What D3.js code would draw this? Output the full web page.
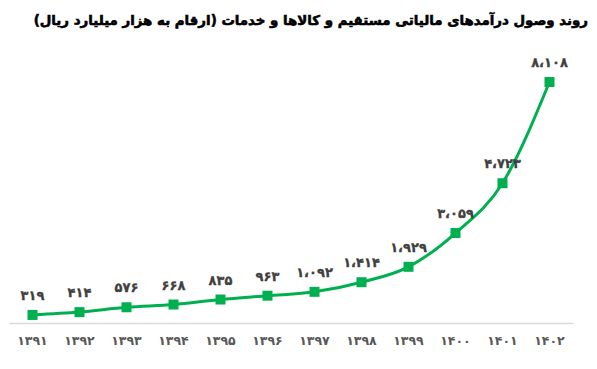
<!DOCTYPE html>
<html><head><meta charset="utf-8">
<script src="https://cdn.jsdelivr.net/npm/d3@7"></script>
<style>body{margin:0;background:#fff;}svg{display:block;}</style>
</head><body>
<svg id="c" width="597" height="369"></svg>
<script>
const title = "روند وصول درآمدهای مالیاتی مستقیم و کالاها و خدمات (ارقام به هزار میلیارد ریال)";
const years = ["۱۳۹۱","۱۳۹۲","۱۳۹۳","۱۳۹۴","۱۳۹۵","۱۳۹۶","۱۳۹۷","۱۳۹۸","۱۳۹۹","۱۴۰۰","۱۴۰۱","۱۴۰۲"];
const values = [319,414,576,668,835,963,1092,1414,1929,3059,4723,8108];

const fa = "۰۱۲۳۴۵۶۷۸۹";
function faNum(v){
  let s = String(v).replace(/\B(?=(\d{3})+(?!\d))/g, "،");
  return s.replace(/\d/g, d => fa[+d]);
}

const svg = d3.select("#c");
const font = "'DejaVu Sans', sans-serif";
const x = d3.scaleBand().domain(years).range([9, 573]);
const y = d3.scaleLinear().domain([0, 8108]).range([324.5, 82]);

// title
const t = svg.append("text").attr("x", 588).attr("y", 25).attr("text-anchor","start")
  .attr("direction","rtl").style("unicode-bidi","embed")
  .attr("font-family", font).attr("font-weight","bold").attr("font-size",17)
  .attr("fill","#000").attr("stroke","#000").attr("stroke-width",0.6).text(title);
const w = t.node().getComputedTextLength();
t.attr("font-size", Math.min(20, 17 * 555 / w));

// axis
const axis = d3.axisBottom(x).tickSize(0).tickPadding(13);
const ag = svg.append("g").attr("transform","translate(0,323)").call(axis);
ag.select(".domain").attr("stroke","#d9d9d9").attr("stroke-width",1.5);
ag.selectAll("text").attr("font-family",font).attr("font-weight","bold").attr("font-size",12.5).attr("fill","#595959");

const data = years.map((yr,i)=>({yr, v: values[i]}));
const line = d3.line().x(d=>x(d.yr)+x.bandwidth()/2).y(d=>y(d.v)).curve(d3.curveMonotoneX);
svg.append("path").datum(data).attr("d",line).attr("fill","none").attr("stroke","#00B050").attr("stroke-width",3);
svg.selectAll("rect.m").data(data).join("rect").attr("class","m")
  .attr("x",d=>x(d.yr)+x.bandwidth()/2-5).attr("y",d=>y(d.v)-5).attr("width",10).attr("height",10).attr("fill","#00B050");
svg.selectAll("text.l").data(data).join("text").attr("class","l")
  .attr("x",d=>x(d.yr)+x.bandwidth()/2).attr("y",d=>y(d.v)-15).attr("text-anchor","middle")
  .attr("font-family",font).attr("font-weight","bold").attr("font-size",13).attr("fill","#404040")
  .attr("stroke","#404040").attr("stroke-width",0.3)
  .text(d=>faNum(d.v));
</script>
</body></html>
